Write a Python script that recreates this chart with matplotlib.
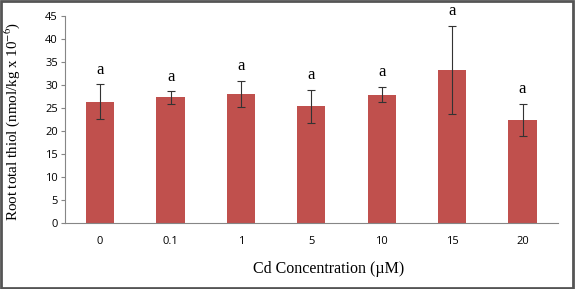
import matplotlib
matplotlib.use("Agg")
from matplotlib import pyplot as plt
from matplotlib.patches import Rectangle

plt.rcParams['mathtext.fontset'] = 'stix'

# data
conc = ['0', '0.1', '1', '5', '10', '15', '20']
thiol = [26.4, 27.3, 28.1, 25.4, 27.9, 33.3, 22.3]
err_hi = [3.8, 1.4, 2.8, 3.6, 1.7, 9.6, 3.6]
err_lo = [3.8, 1.4, 2.8, 3.6, 1.7, 9.5, 3.4]
letters = ['a', 'a', 'a', 'a', 'a', 'a', 'a']

fig = plt.figure(figsize=(5.75, 2.89), dpi=100)
ax = fig.add_axes([0.113, 0.228, 0.857, 0.717])

x = range(len(conc))
ax.bar(x, thiol, width=0.4, color='#C0504D', zorder=2)
ax.errorbar(x, thiol, yerr=[err_lo, err_hi], fmt='none', ecolor='#333333',
            elinewidth=0.8, capsize=3, capthick=0.8, zorder=3)
for i, lab in enumerate(letters):
    ax.text(i, thiol[i] + err_hi[i] + 1.4, lab, ha='center', va='bottom',
            family='Liberation Serif', fontsize=12)

ax.set_xlim(-0.5, len(conc) - 0.5)
ax.set_ylim(0, 45)
ax.set_yticks(range(0, 46, 5))
ax.set_xticks(list(x))
ax.set_xticklabels(conc)
for lbl in ax.get_xticklabels() + ax.get_yticklabels():
    lbl.set_family('Open Sans')
    lbl.set_fontsize(8)
ax.tick_params(axis='x', length=0, pad=9)
ax.tick_params(axis='y', length=3, color='#868686', pad=2)

for s in ['top', 'right']:
    ax.spines[s].set_visible(False)
for s in ['left', 'bottom']:
    ax.spines[s].set_color('#868686')
    ax.spines[s].set_linewidth(0.8)

ax.set_ylabel('Root total thiol (nmol/kg x 10$^{-6}$)', family='Liberation Serif',
              fontsize=10.8)
ax.yaxis.set_label_coords(-0.087, 0.49)
ax.set_xlabel('Cd Concentration (\u00b5M)', family='Liberation Serif', fontsize=11.5)
ax.xaxis.set_label_coords(0.535, -0.185)

fig.patches.append(Rectangle((0.002, 0.004), 0.995, 0.991, transform=fig.transFigure,
                             fill=False, edgecolor='#555555', linewidth=2))

fig.savefig('out.png', dpi=100)
